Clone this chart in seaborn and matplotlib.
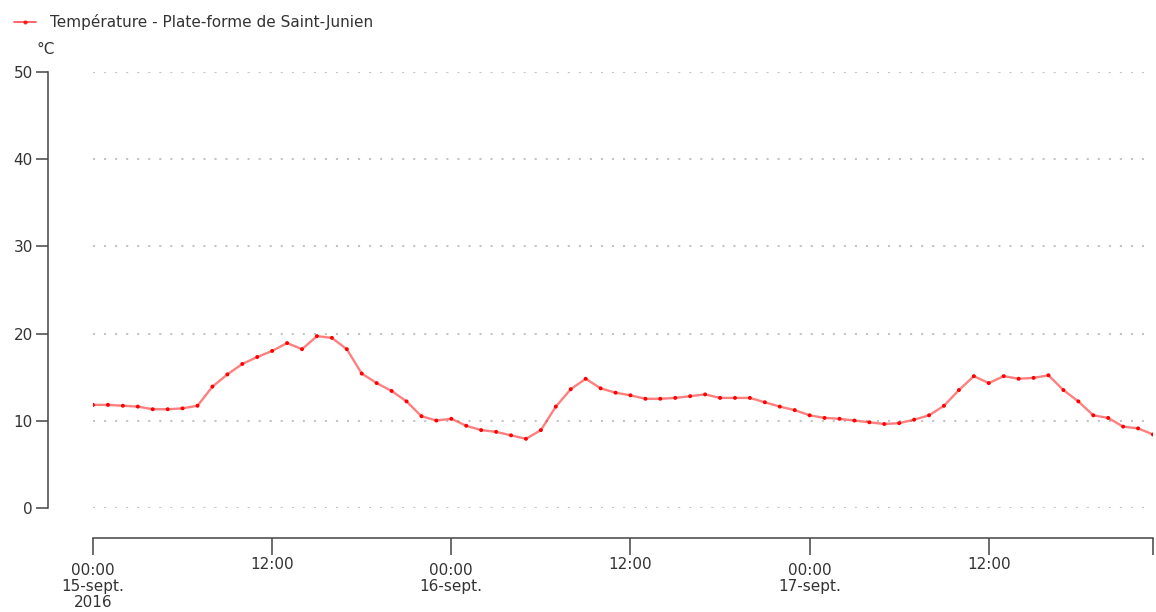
import pandas as pd
import matplotlib
matplotlib.use("Agg")
import matplotlib.pyplot as plt
from matplotlib.lines import Line2D
import seaborn as sns

# Hourly temperature readings, 15-17 Sept 2016
start = "2016-09-15 00:00"
temperature = [11.8, 11.8, 11.7, 11.6, 11.3, 11.3, 11.4, 11.7, 13.9, 15.3, 16.5, 17.3,
               18.0, 18.9, 18.2, 19.7, 19.5, 18.2, 15.4, 14.3, 13.4, 12.2, 10.5, 10.0,
               10.2, 9.4, 8.9, 8.7, 8.3, 7.9, 8.9, 11.6, 13.6, 14.8, 13.7, 13.2,
               12.9, 12.5, 12.5, 12.6, 12.8, 13.0, 12.6, 12.6, 12.6, 12.1, 11.6, 11.2,
               10.6, 10.3, 10.2, 10.0, 9.8, 9.6, 9.7, 10.1, 10.6, 11.7, 13.5, 15.1,
               14.3, 15.1, 14.8, 14.9, 15.2, 13.5, 12.2, 10.6, 10.3, 9.3, 9.1, 8.4]
series_name = "Température - Plate-forme de Saint-Junien"
unit_label = "°C"
y_ticks = [0, 10, 20, 30, 40, 50]
day_ticks = ["2016-09-15 00:00", "2016-09-16 00:00", "2016-09-17 00:00"]
day_labels = ["00:00\n15-sept.\n2016", "00:00\n16-sept.", "00:00\n17-sept."]
noon_ticks = ["2016-09-15 12:00", "2016-09-16 12:00", "2016-09-17 12:00"]
noon_labels = ["12:00", "12:00", "12:00"]

times = pd.date_range(start, periods=len(temperature), freq="h")
df = pd.DataFrame({"time": times, "temp": temperature})

sns.set_theme(style="white")
plt.rcParams["font.family"] = ["DejaVu Sans"]
text_color = "#333333"
axis_color = "#444444"
line_red = "#ff0000"
fs = 11

fig = plt.figure(figsize=(11.56, 6.12), dpi=100)
ax = fig.add_axes([93 / 1156, 104 / 612, 1060 / 1156, 436 / 612])

sns.lineplot(data=df, x="time", y="temp", ax=ax, color=line_red, alpha=0.5,
             linewidth=1.7, legend=False)
sns.scatterplot(data=df, x="time", y="temp", ax=ax, color=line_red, s=8,
                edgecolor="none", legend=False, zorder=3)

ax.set_xlim(times[0], times[-1])
ax.set_ylim(-0.05, 50.05)
ax.set_xlabel("")
ax.set_ylabel("")

# Axes frame: detached left and bottom spines
for side in ("top", "right"):
    ax.spines[side].set_visible(False)
ax.spines["left"].set_position(("outward", 32.4))
ax.spines["bottom"].set_position(("outward", 21.6))
ax.spines["left"].set_bounds(0, 50)
for side in ("left", "bottom"):
    ax.spines[side].set_color(axis_color)
    ax.spines[side].set_linewidth(1.1)

ax.set_yticks(y_ticks)
ax.set_yticklabels([str(v) for v in y_ticks])
ax.set_xticks(pd.to_datetime(day_ticks))
ax.set_xticklabels(day_labels)
minor_pos = list(pd.to_datetime(noon_ticks)) + [times[-1]]
ax.set_xticks(minor_pos, minor=True)
ax.set_xticklabels(noon_labels + [""], minor=True)

ax.tick_params(axis="y", which="major", direction="out", length=9, width=1.1,
               color=axis_color, labelcolor=text_color, labelsize=fs, pad=2, left=True)
ax.tick_params(axis="x", which="major", direction="out", length=12, width=1.1,
               color=axis_color, labelcolor=text_color, labelsize=fs, pad=6, bottom=True)
ax.tick_params(axis="x", which="minor", direction="out", length=12, width=1.1,
               color=axis_color, labelcolor=text_color, labelsize=fs, pad=1.5, bottom=True)
for lbl in ax.get_xticklabels():
    lbl.set_linespacing(1.1)

ax.grid(False)
ax.yaxis.grid(True, linestyle=(0, (1, 4.3)), color="#c4c4c4", linewidth=1.5)

fig.text(36 / 1156, 1 - 50 / 612, unit_label, fontsize=fs, color=text_color,
         ha="left", va="center")

handle = Line2D([], [], color=line_red, alpha=0.7, linewidth=1.2, marker="o",
                markersize=2, markerfacecolor=line_red, markeredgecolor=line_red)
fig.legend([handle], [series_name], loc="center left",
           bbox_to_anchor=(14 / 1156, 1 - 22 / 612), frameon=False, fontsize=fs,
           handlelength=1.45, handletextpad=0.9, labelcolor=text_color,
           borderaxespad=0, borderpad=0)

fig.savefig("out.png", dpi=100, facecolor="white")
